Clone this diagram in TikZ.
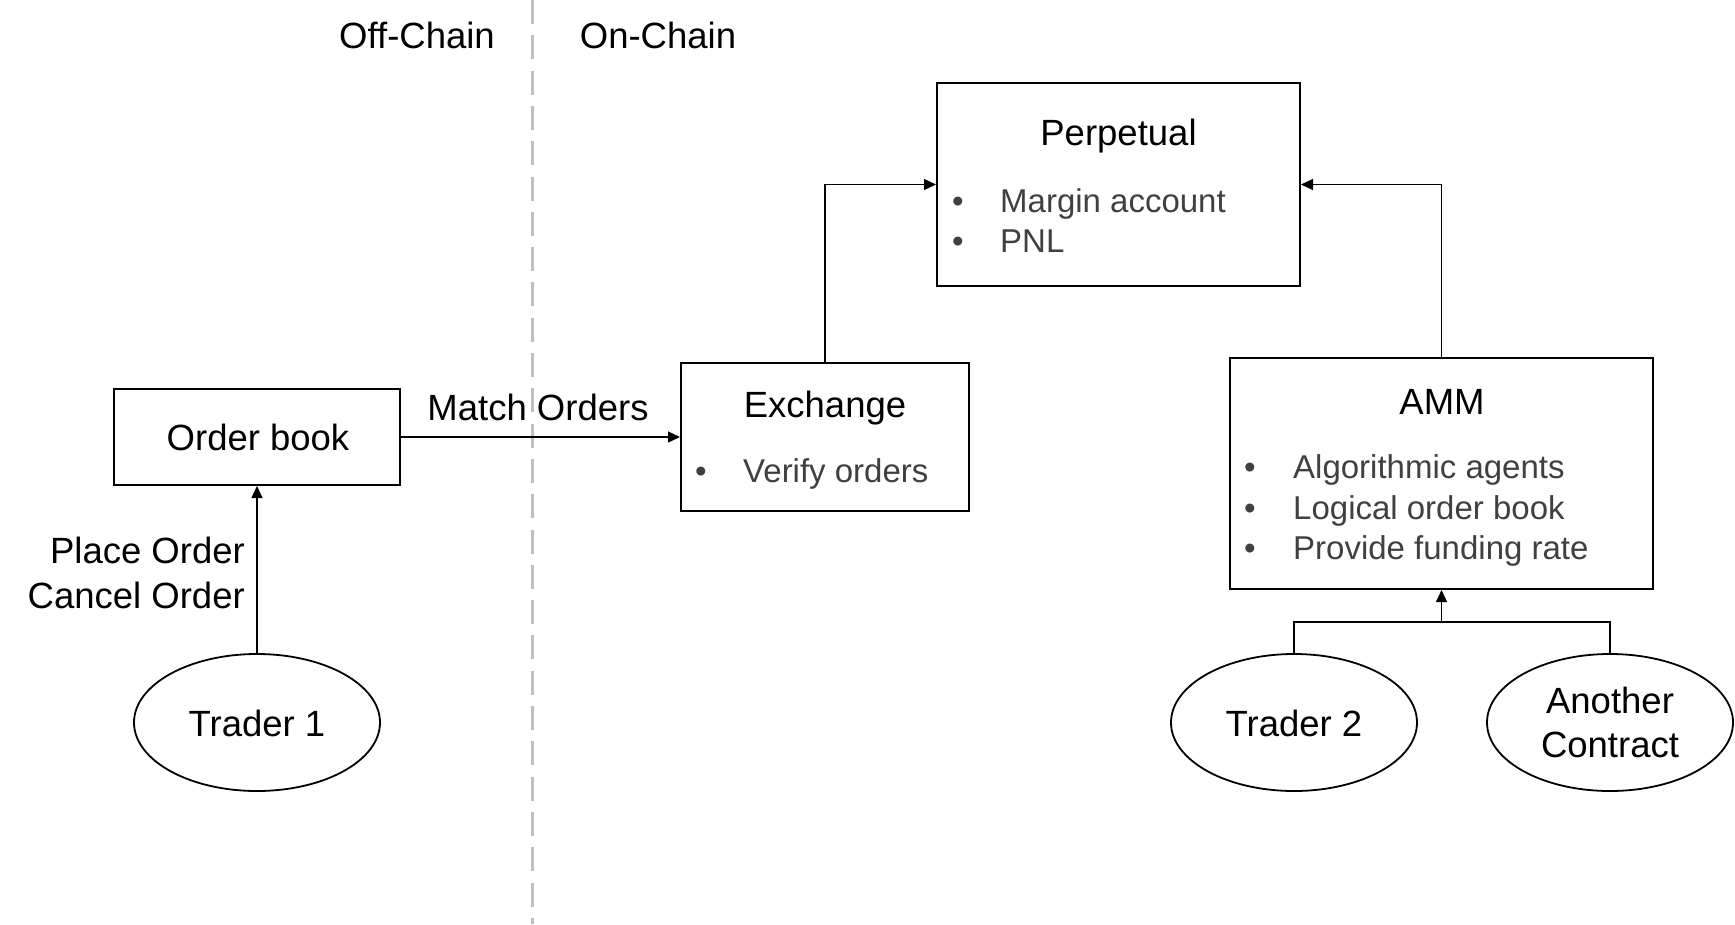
\documentclass[tikz,border=0pt]{standalone}
\usepackage{fontspec}
\setmainfont{Liberation Sans}
\usetikzlibrary{shapes.geometric,arrows.meta}
\definecolor{bulletgray}{HTML}{404040}
\definecolor{divgray}{HTML}{BFBFBF}
\begin{document}
\begin{tikzpicture}[x=1pt,y=-1pt,
  box/.style={draw=black,line width=2pt,rectangle,inner sep=0pt},
  oval/.style={draw=black,line width=1.8pt,ellipse,inner sep=0pt,minimum width=246pt,minimum height=137pt},
  lbl/.style={inner sep=0pt,anchor=base,font=\fontsize{36.5}{44}\selectfont},
  rlbl/.style={inner sep=0pt,anchor=base east,font=\fontsize{36.5}{44}\selectfont},
  itemtxt/.style={inner sep=0pt,anchor=base west,text=bulletgray,font=\fontsize{33}{40}\selectfont},
  dot/.style={inner sep=0pt,anchor=base,text=bulletgray,font=\fontsize{33}{40}\selectfont},
  conn/.style={line width=1.2pt,-{Triangle[length=12pt,width=11pt]}},
  link/.style={line width=1.2pt},
  divider/.style={draw=divgray,line width=3pt,dash pattern=on 24pt off 11.3pt}]
\useasboundingbox (0,0) rectangle (1735,924);
% divider
\coordinate (dtop) at (532,0);
\coordinate (dbot) at (532,924);
\draw[divider] (dtop) -- (dbot);
\node[lbl] (offc) at (417,48) {Off-Chain};
\node[lbl] (onc) at (658,48) {On-Chain};
% boxes
\node[box,minimum width=363pt,minimum height=203pt] (perp) at (1118.5,184.5) {};
\node[box,minimum width=288pt,minimum height=148pt] (exch) at (825,437) {};
\node[box,minimum width=286pt,minimum height=96pt] (ob) at (257,437) {};
\node[box,minimum width=423pt,minimum height=231pt] (amm) at (1441.5,473.5) {};
% ellipses
\node[oval] (t1) at (257,722.5) {};
\node[oval] (t2) at (1294,722.5) {};
\node[oval] (ac) at (1610,722.5) {};
% texts
\node[lbl] (perpT) at (1118.5,145) {Perpetual};
\node[dot] (pd1) at (958,212) {•};
\node[itemtxt] (pi1) at (1000,212) {Margin account};
\node[dot] (pd2) at (958,252) {•};
\node[itemtxt] (pi2) at (1000,252) {PNL};
\node[lbl] (exchT) at (825,417) {Exchange};
\node[dot] (ed1) at (701,482) {•};
\node[itemtxt] (ei1) at (743,482) {Verify orders};
\node[lbl] (obT) at (258,450) {Order book};
\node[lbl] (match) at (538,420) {Match Orders};
\node[rlbl] (place) at (245,563) {Place Order};
\node[rlbl] (cancel) at (245,608) {Cancel Order};
\node[lbl] (ammT) at (1442,414) {AMM};
\node[dot] (ad1) at (1250,478) {•};
\node[itemtxt] (ai1) at (1293,478) {Algorithmic agents};
\node[dot] (ad2) at (1250,519) {•};
\node[itemtxt] (ai2) at (1293,519) {Logical order book};
\node[dot] (ad3) at (1250,559) {•};
\node[itemtxt] (ai3) at (1293,559) {Provide funding rate};
\node[lbl] (t1T) at (257,736) {Trader 1};
\node[lbl] (t2T) at (1294,736) {Trader 2};
\node[lbl] (acT1) at (1610,713) {Another};
\node[lbl] (acT2) at (1610,757) {Contract};
% connectors
\draw[conn] (ob.east) -- (exch.west);
\draw[conn] (t1.north) -- (ob.south);
\draw[conn] (exch.north) |- (perp.west);
\draw[conn] (amm.north) |- (perp.east);
\coordinate (j) at (1441.5,622);
\draw[link] (t2.north) |- (j);
\draw[link] (ac.north) |- (j);
\draw[conn] (j) -- (amm.south);
\end{tikzpicture}
\end{document}
